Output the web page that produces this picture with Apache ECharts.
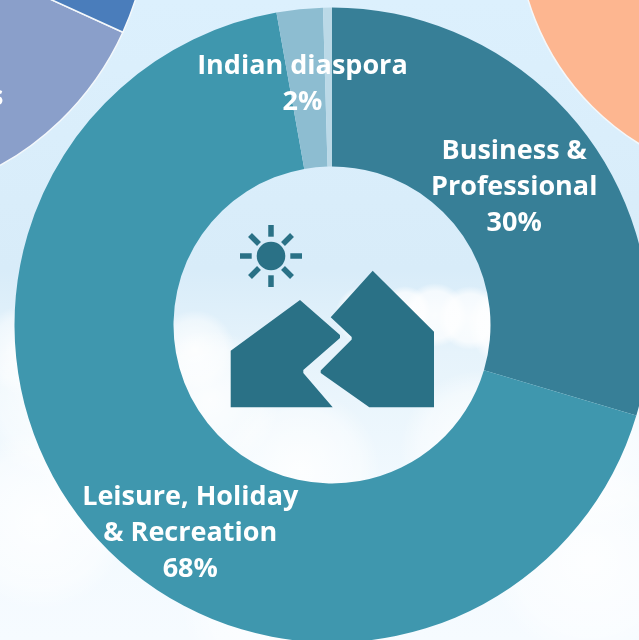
<!DOCTYPE html>
<html><head><meta charset="utf-8">
<style>html,body{margin:0;padding:0;background:#dcefFC}#c{width:639px;height:640px;filter:blur(0.5px)}</style>
<script src="https://cdn.jsdelivr.net/npm/echarts@6/dist/echarts.min.js"></script>
</head><body><div id="c"></div>
<script>
// data
const categories = ['Business &\nProfessional', 'Leisure, Holiday\n& Recreation', 'Indian diaspora', 'Other'];
const shares = [29.6, 67.6, 2.35, 0.45];
const shareLabels = ['30%', '68%', '2%', ''];
const sideLeftValues = [40, 30, 30];
const sideRightValues = [100];

// styling and layout
const mainColors = ['#377f97', '#3f97ae', '#8dbdd1', '#bbd9e7'];
const sideLeftColors = ['#8a9fca', '#8a9fca', '#4a7dbb'];
const labelOffsets = [[-11, 6], [38, 48], [-5, -1], [0, 0]];
const F = '"Open Sans", sans-serif';

const hardClouds = [[405,312,26],[435,315,32],[470,318,32],[365,315,30],[510,325,42]];
const softClouds = [
  [590,330,60],[25,350,45],[110,345,60],[195,350,40],[60,400,80],[210,400,70],
  [130,470,90],[300,470,80],[480,450,80],[590,440,90],[40,520,90],[590,560,100],[300,600,120]
];
const gfx = [];
const addCloud = (c, a, b) => gfx.push({
  type:'circle', z:-5, silent:true, shape:{cx:c[0],cy:c[1],r:c[2]},
  style:{fill:{type:'radial',x:.5,y:.5,r:.5,colorStops:[
    {offset:0,color:'rgba(255,255,255,'+a+')'},{offset:.75,color:'rgba(255,255,255,'+b+')'},{offset:1,color:'rgba(255,255,255,0)'}]}}
});
softClouds.forEach(c => addCloud(c, .85, .45));
hardClouds.forEach(c => addCloud(c, .85, .7));
const ic = '#2a7186';
gfx.push({type:'polygon',z:20,silent:true,shape:{points:[[230.7,350.7],[300,300],[340,335],[340,338],[303.3,370],[303.3,373],[332.7,407.3],[230.7,407.3]]},style:{fill:ic}});
gfx.push({type:'polygon',z:20,silent:true,shape:{points:[[330.7,317.3],[372.7,270.7],[434,331.7],[434,407.3],[369.3,407.3],[320.7,373],[320.7,370.5],[351.7,339.5],[351.7,337]]},style:{fill:ic}});
gfx.push({type:'circle',z:20,silent:true,shape:{cx:271,cy:256,r:14.3},style:{fill:ic}});
[[271,225,271,236.7],[271,275.3,271,287],[240,256,251.7,256],[290.3,256,302,256],[250,235,259,244],[283,268,292,277],[292,235,283,244],[259,268,250,277]].forEach(l=>
  gfx.push({type:'line',z:20,silent:true,shape:{x1:l[0],y1:l[1],x2:l[2],y2:l[3]},style:{stroke:ic,lineWidth:5.5}}));
gfx.push({type:'text',z:20,silent:true,style:{x:-10,y:84,text:'s',fill:'#fff',font:'bold 27px '+F}});

const chart = echarts.init(document.getElementById('c'));
chart.setOption({
  animation:false,
  backgroundColor:{type:'linear',x:0,y:0,x2:0,y2:1,colorStops:[
    {offset:0,color:'#dcf0fd'},{offset:.42,color:'#d8ecf9'},{offset:.55,color:'#e6f3fb'},{offset:.75,color:'#f1f9fe'},{offset:1,color:'#f6fbff'}]},
  graphic:gfx,
  series:[
    {type:'pie',center:[-141,-88],radius:[0,290],startAngle:-24.5,silent:true,label:{show:false},labelLine:{show:false},
     data:sideLeftValues.map((v,i)=>({value:v,itemStyle:{color:sideLeftColors[i],borderColor:'#f4f8fb',borderWidth:i===1?0:1.5}}))},
    {type:'pie',center:[774,-75],radius:[0,257],silent:true,label:{show:false},labelLine:{show:false},
     data:sideRightValues.map(v=>({value:v,itemStyle:{color:'#fdb690',borderColor:'#f4f8fb',borderWidth:1.5}}))},
    {type:'pie',center:[332,325],radius:[158.5,317.5],startAngle:90,clockwise:true,silent:true,avoidLabelOverlap:false,labelLine:{show:false},
     data:shares.map((v,i)=>({
       name:categories[i],value:v,
       itemStyle:{color:mainColors[i]},
       label:{show:i<3,position:'inside',offset:labelOffsets[i],
         formatter:categories[i]+'\n'+shareLabels[i],
         color:'#fff',fontFamily:F,fontWeight:700,fontSize:27,lineHeight:36,align:'center'}
     }))}
  ]
});
</script></body></html>
